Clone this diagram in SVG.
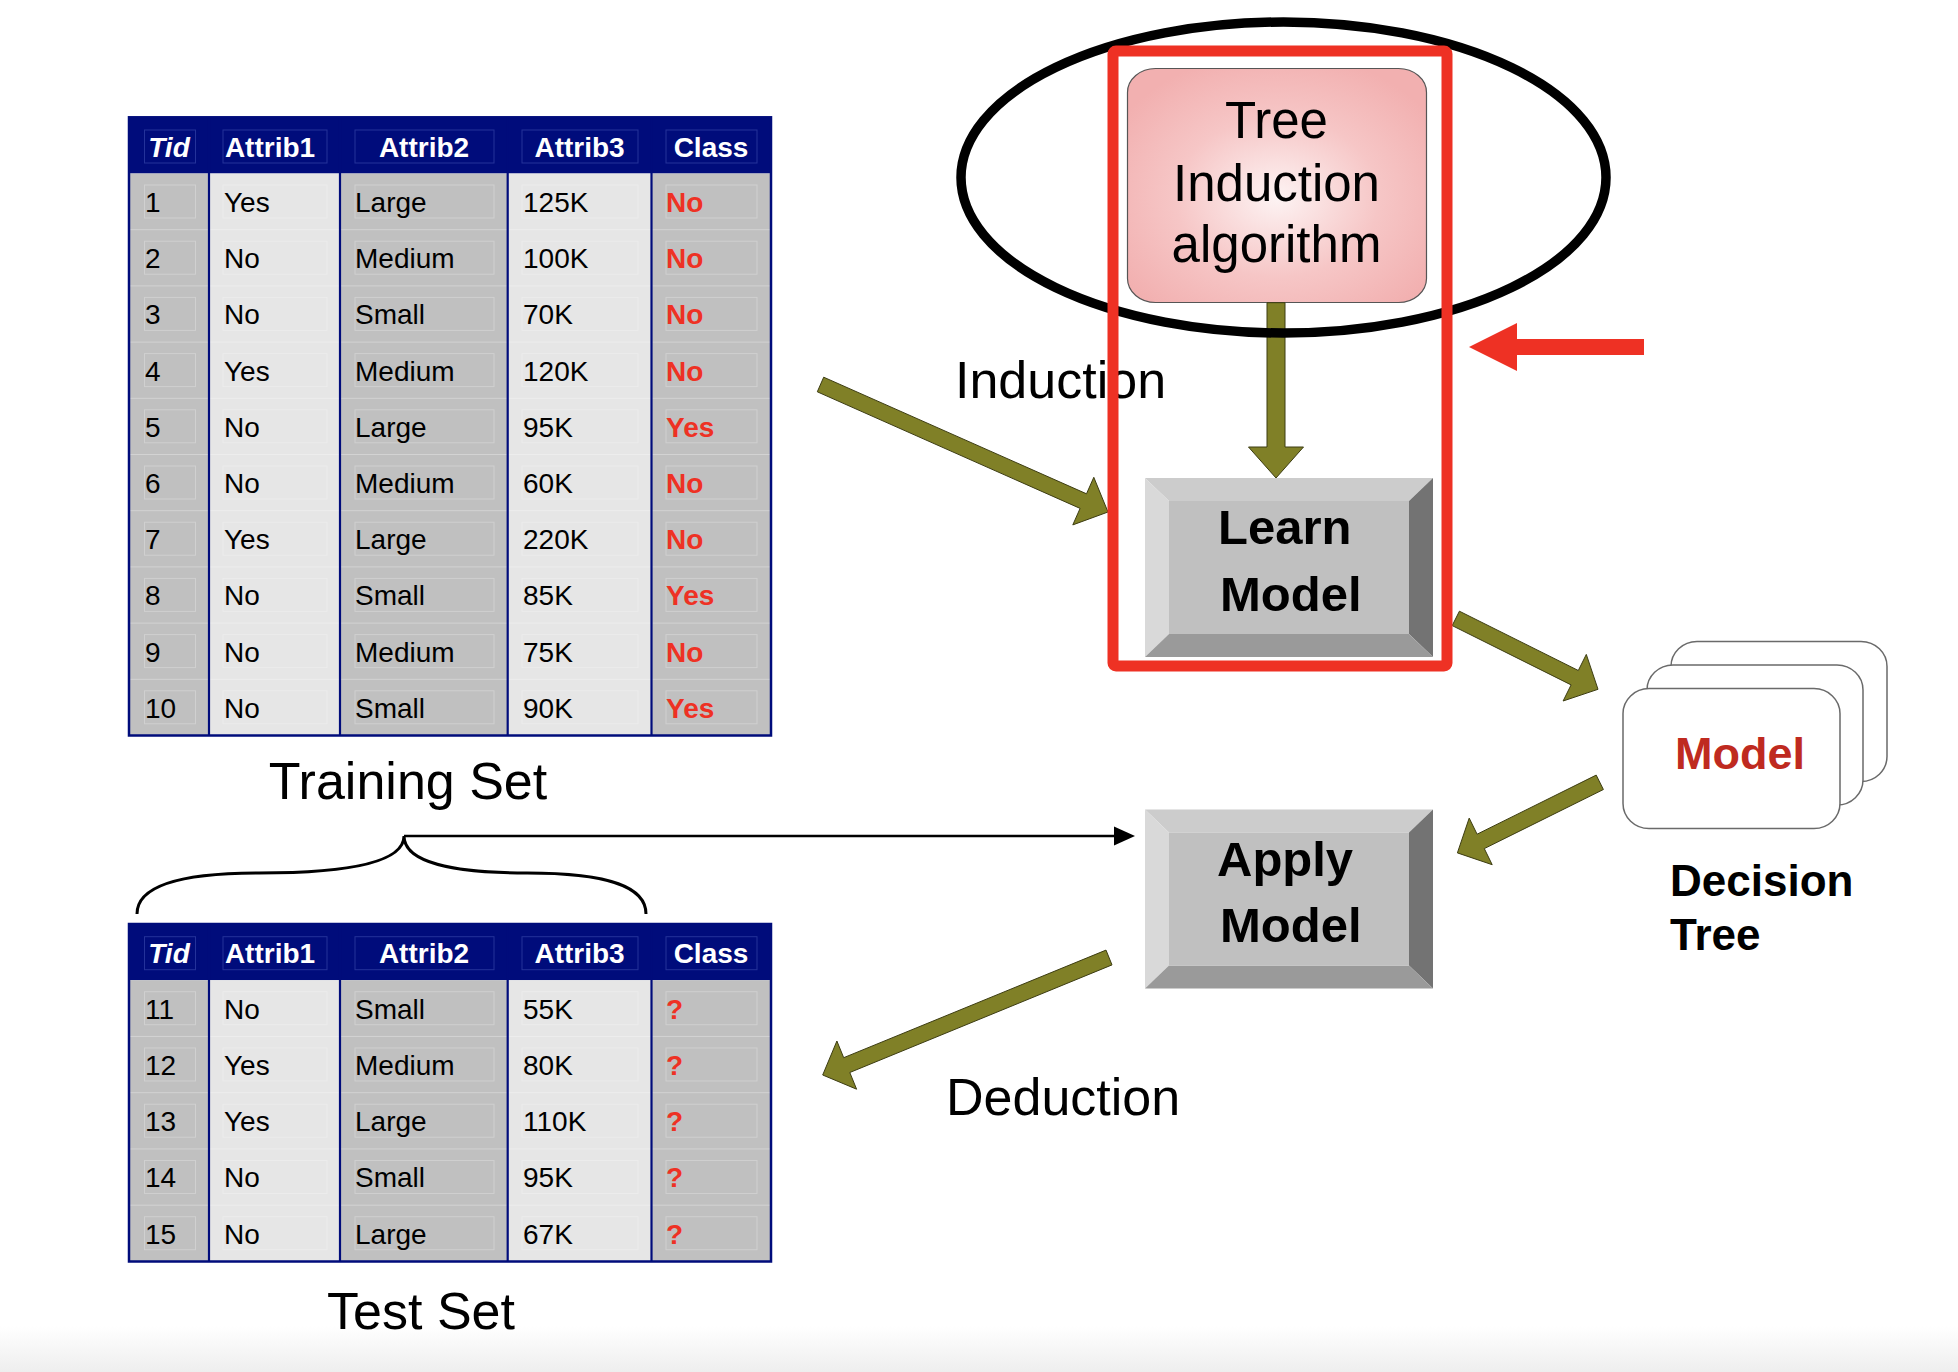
<svg xmlns="http://www.w3.org/2000/svg" xmlns:xlink="http://www.w3.org/1999/xlink" width="1958" height="1372" viewBox="0 0 1958 1372">
<style>
text{font-family:"Liberation Sans",Arial,Helvetica,sans-serif}
.hd{fill:#ffffff;font-weight:bold;font-size:28px;text-anchor:middle}
.hi{font-style:italic}
.td{fill:#000000;font-size:28px}
.tc{fill:#ee3124;font-size:28px;font-weight:bold}
.navy{fill:#000c7b}
.cg{fill:#c0c0c0}
.cl{fill:#e6e6e6}
.vl{stroke:#000c7b;stroke-width:2.2}
.rb{stroke:#ffffff;stroke-opacity:0.3;stroke-width:1}
.lbl{fill:#000000;font-size:52px}
.olive{fill:#808027;stroke:#3c3c12;stroke-width:1}
.btxt{fill:#000000;font-size:49px;font-weight:bold}
.card{fill:#ffffff;stroke:#6a6a6a;stroke-width:1.5}
</style>
<defs>
<radialGradient id="pink" cx="50%" cy="55%" r="62%">
<stop offset="0" stop-color="#fdf3f3"/>
<stop offset="0.55" stop-color="#f6c6c6"/>
<stop offset="1" stop-color="#f2b0b0"/>
</radialGradient>
<linearGradient id="floor" x1="0" y1="0" x2="0" y2="1">
<stop offset="0" stop-color="#ffffff"/>
<stop offset="1" stop-color="#eeeeee"/>
</linearGradient>
<g id="fr">
<rect x="144.5" y="0" width="51" height="33"/>
<rect x="223" y="0" width="104" height="33"/>
<rect x="355" y="0" width="139" height="33"/>
<rect x="522" y="0" width="116" height="33"/>
<rect x="666" y="0" width="91" height="33"/>
</g>
<g id="bevel">
<polygon points="0,0 288,0 264,23 24,23" fill="#cccccc"/>
<polygon points="0,0 24,23 24,156 0,179" fill="#d9d9d9"/>
<polygon points="288,0 288,179 264,156 264,23" fill="#737373"/>
<polygon points="0,179 24,156 264,156 288,179" fill="#9a9a9a"/>
<rect x="24" y="23" width="240" height="133" fill="#c0c0c0"/>
</g>
</defs>

<rect x="0" y="0" width="1958" height="1372" fill="#ffffff"/>
<rect x="0" y="1326" width="1958" height="46" fill="url(#floor)"/>

<!-- Training set table -->
<g id="training-table">
<rect x="129" y="117.3" width="642" height="56.2" class="navy"/>
<rect x="129" y="173.5" width="80" height="562" class="cg"/>
<rect x="209" y="173.5" width="131" height="562" class="cl"/>
<rect x="340" y="173.5" width="167.7" height="562" class="cg"/>
<rect x="507.7" y="173.5" width="143.8" height="562" class="cl"/>
<rect x="651.5" y="173.5" width="119.5" height="562" class="cg"/>
<g fill="none" stroke="#24329a" stroke-width="1"><use xlink:href="#fr" y="130"/></g>
<g fill="none" stroke="#ffffff" stroke-opacity="0.25" stroke-width="1">
<use xlink:href="#fr" y="185"/><use xlink:href="#fr" y="241.2"/><use xlink:href="#fr" y="297.4"/><use xlink:href="#fr" y="353.6"/><use xlink:href="#fr" y="409.8"/><use xlink:href="#fr" y="466"/><use xlink:href="#fr" y="522.2"/><use xlink:href="#fr" y="578.4"/><use xlink:href="#fr" y="634.6"/><use xlink:href="#fr" y="690.8"/>
</g>
<g class="rb">
<line x1="129" y1="229.7" x2="771" y2="229.7"/><line x1="129" y1="285.9" x2="771" y2="285.9"/><line x1="129" y1="342.1" x2="771" y2="342.1"/><line x1="129" y1="398.3" x2="771" y2="398.3"/><line x1="129" y1="454.5" x2="771" y2="454.5"/><line x1="129" y1="510.7" x2="771" y2="510.7"/><line x1="129" y1="566.9" x2="771" y2="566.9"/><line x1="129" y1="623.1" x2="771" y2="623.1"/><line x1="129" y1="679.3" x2="771" y2="679.3"/>
</g>
<g class="vl">
<line x1="209" y1="117.3" x2="209" y2="735.5"/><line x1="340" y1="117.3" x2="340" y2="735.5"/><line x1="507.7" y1="117.3" x2="507.7" y2="735.5"/><line x1="651.5" y1="117.3" x2="651.5" y2="735.5"/>
</g>
<rect x="129" y="117.3" width="642" height="618.2" fill="none" stroke="#000c7b" stroke-width="2.5"/>
<text class="hd hi" x="169" y="156.7">Tid</text>
<text class="hd" x="270" y="156.7">Attrib1</text>
<text class="hd" x="424" y="156.7">Attrib2</text>
<text class="hd" x="579.6" y="156.7">Attrib3</text>
<text class="hd" x="711" y="156.7">Class</text>
<g class="td">
<text x="145" y="211.9">1</text><text x="224" y="211.9">Yes</text><text x="355" y="211.9">Large</text><text x="523" y="211.9">125K</text>
<text x="145" y="268.1">2</text><text x="224" y="268.1">No</text><text x="355" y="268.1">Medium</text><text x="523" y="268.1">100K</text>
<text x="145" y="324.3">3</text><text x="224" y="324.3">No</text><text x="355" y="324.3">Small</text><text x="523" y="324.3">70K</text>
<text x="145" y="380.5">4</text><text x="224" y="380.5">Yes</text><text x="355" y="380.5">Medium</text><text x="523" y="380.5">120K</text>
<text x="145" y="436.7">5</text><text x="224" y="436.7">No</text><text x="355" y="436.7">Large</text><text x="523" y="436.7">95K</text>
<text x="145" y="492.9">6</text><text x="224" y="492.9">No</text><text x="355" y="492.9">Medium</text><text x="523" y="492.9">60K</text>
<text x="145" y="549.1">7</text><text x="224" y="549.1">Yes</text><text x="355" y="549.1">Large</text><text x="523" y="549.1">220K</text>
<text x="145" y="605.3">8</text><text x="224" y="605.3">No</text><text x="355" y="605.3">Small</text><text x="523" y="605.3">85K</text>
<text x="145" y="661.5">9</text><text x="224" y="661.5">No</text><text x="355" y="661.5">Medium</text><text x="523" y="661.5">75K</text>
<text x="145" y="717.7">10</text><text x="224" y="717.7">No</text><text x="355" y="717.7">Small</text><text x="523" y="717.7">90K</text>
</g>
<g class="tc">
<text x="666" y="211.9">No</text><text x="666" y="268.1">No</text><text x="666" y="324.3">No</text><text x="666" y="380.5">No</text><text x="666" y="436.7">Yes</text><text x="666" y="492.9">No</text><text x="666" y="549.1">No</text><text x="666" y="605.3">Yes</text><text x="666" y="661.5">No</text><text x="666" y="717.7">Yes</text>
</g>
</g>
<g id="training-label"><text class="lbl" x="408" y="799" text-anchor="middle">Training Set</text></g>

<!-- Test set table -->
<g id="test-table">
<rect x="129" y="924" width="642" height="56.2" class="navy"/>
<rect x="129" y="980.2" width="80" height="281.3" class="cg"/>
<rect x="209" y="980.2" width="131" height="281.3" class="cl"/>
<rect x="340" y="980.2" width="167.7" height="281.3" class="cg"/>
<rect x="507.7" y="980.2" width="143.8" height="281.3" class="cl"/>
<rect x="651.5" y="980.2" width="119.5" height="281.3" class="cg"/>
<g fill="none" stroke="#24329a" stroke-width="1"><use xlink:href="#fr" y="936.7"/></g>
<g fill="none" stroke="#ffffff" stroke-opacity="0.25" stroke-width="1">
<use xlink:href="#fr" y="991.7"/><use xlink:href="#fr" y="1047.95"/><use xlink:href="#fr" y="1104.2"/><use xlink:href="#fr" y="1160.45"/><use xlink:href="#fr" y="1216.7"/>
</g>
<g class="rb">
<line x1="129" y1="1036.45" x2="771" y2="1036.45"/><line x1="129" y1="1092.7" x2="771" y2="1092.7"/><line x1="129" y1="1148.95" x2="771" y2="1148.95"/><line x1="129" y1="1205.2" x2="771" y2="1205.2"/>
</g>
<g class="vl">
<line x1="209" y1="924" x2="209" y2="1261.5"/><line x1="340" y1="924" x2="340" y2="1261.5"/><line x1="507.7" y1="924" x2="507.7" y2="1261.5"/><line x1="651.5" y1="924" x2="651.5" y2="1261.5"/>
</g>
<rect x="129" y="924" width="642" height="337.5" fill="none" stroke="#000c7b" stroke-width="2.5"/>
<text class="hd hi" x="169" y="963.4">Tid</text>
<text class="hd" x="270" y="963.4">Attrib1</text>
<text class="hd" x="424" y="963.4">Attrib2</text>
<text class="hd" x="579.6" y="963.4">Attrib3</text>
<text class="hd" x="711" y="963.4">Class</text>
<g class="td">
<text x="145" y="1018.6">11</text><text x="224" y="1018.6">No</text><text x="355" y="1018.6">Small</text><text x="523" y="1018.6">55K</text>
<text x="145" y="1074.85">12</text><text x="224" y="1074.85">Yes</text><text x="355" y="1074.85">Medium</text><text x="523" y="1074.85">80K</text>
<text x="145" y="1131.1">13</text><text x="224" y="1131.1">Yes</text><text x="355" y="1131.1">Large</text><text x="523" y="1131.1">110K</text>
<text x="145" y="1187.35">14</text><text x="224" y="1187.35">No</text><text x="355" y="1187.35">Small</text><text x="523" y="1187.35">95K</text>
<text x="145" y="1243.6">15</text><text x="224" y="1243.6">No</text><text x="355" y="1243.6">Large</text><text x="523" y="1243.6">67K</text>
</g>
<g class="tc">
<text x="666" y="1018.6">?</text><text x="666" y="1074.85">?</text><text x="666" y="1131.1">?</text><text x="666" y="1187.35">?</text><text x="666" y="1243.6">?</text>
</g>
</g>
<g id="test-label"><text class="lbl" x="421" y="1329" text-anchor="middle">Test Set</text></g>

<!-- Labels -->
<g id="induction-label"><text class="lbl" x="955" y="398">Induction</text></g>
<g id="deduction-label"><text class="lbl" x="946" y="1115">Deduction</text></g>

<!-- Nodes -->
<g id="tree-induction">
<rect x="1127.5" y="68.5" width="299" height="234" rx="28" ry="24" fill="url(#pink)" stroke="#555555" stroke-width="1.2"/>
<text x="1276.5" y="138.3" font-size="51" text-anchor="middle" fill="#000000">Tree</text>
<text x="1276.5" y="200.7" font-size="51" text-anchor="middle" fill="#000000">Induction</text>
<text x="1276.5" y="262.3" font-size="51" text-anchor="middle" fill="#000000">algorithm</text>
</g>
<g id="learn-model">
<use xlink:href="#bevel" x="1145" y="478"/>
<text class="btxt" x="1218" y="544">Learn</text>
<text class="btxt" x="1220" y="610.7">Model</text>
</g>
<g id="apply-model">
<use xlink:href="#bevel" x="1145" y="809.5"/>
<text class="btxt" x="1217" y="876">Apply</text>
<text class="btxt" x="1220" y="942">Model</text>
</g>
<g id="model-stack">
<rect class="card" x="1671" y="641.5" width="216" height="140" rx="26" ry="25"/>
<rect class="card" x="1647" y="665" width="216" height="140" rx="26" ry="25"/>
<rect class="card" x="1623" y="688.6" width="217" height="140" rx="26" ry="25"/>
<text x="1740" y="769" font-size="45" font-weight="bold" fill="#bf2a20" text-anchor="middle">Model</text>
</g>
<g id="decision-tree-label">
<text x="1670" y="896" font-size="44" font-weight="bold" fill="#000000">Decision</text>
<text x="1670" y="950" font-size="44" font-weight="bold" fill="#000000">Tree</text>
</g>

<!-- Connectors -->
<g id="connectors">
<polygon class="olive" points="1267,302.7 1285,302.7 1285,447 1303.5,447 1276,478 1248.5,447 1267,447"/>
<polygon class="olive" points="823.7,377.2 1086.5,493.8 1093.8,477.3 1108,512 1072.8,524.9 1080.1,508.4 817.3,391.8"/>
<polygon class="olive" points="1459.4,611.2 1578.3,670.5 1586.3,654.4 1598,689.3 1563.1,701 1571.1,684.9 1452.2,625.6"/>
<polygon class="olive" points="1596.2,775.1 1477.1,834.2 1469.2,818.1 1457.4,852.9 1492.2,864.7 1484.3,848.6 1603.4,789.5"/>
<polygon class="olive" points="1106,950.1 843.7,1057.7 836.9,1041 822.7,1075 856.6,1089.2 849.8,1072.5 1112,964.9"/>
<path d="M137,914 C137,888 175,873 259,873 C350,873 404,862 404,836 C404,862 452,873 527,873 C612,873 646,888 646,914" fill="none" stroke="#000000" stroke-width="3"/>
<line x1="404" y1="836" x2="1117" y2="836" stroke="#000000" stroke-width="2.7"/>
<polygon points="1114,826.5 1135,836 1114,845.5" fill="#000000"/>
</g>

<!-- Highlight annotations -->
<g id="highlight">
<ellipse cx="1283.5" cy="177.5" rx="322.5" ry="155.5" fill="none" stroke="#000000" stroke-width="9.5"/>
<rect x="1113" y="51" width="334" height="615" rx="3" fill="none" stroke="#ee3124" stroke-width="11"/>
<polygon points="1644,339 1517,339 1517,323 1469,347 1517,371 1517,355 1644,355" fill="#ee3124"/>
</g>
</svg>
